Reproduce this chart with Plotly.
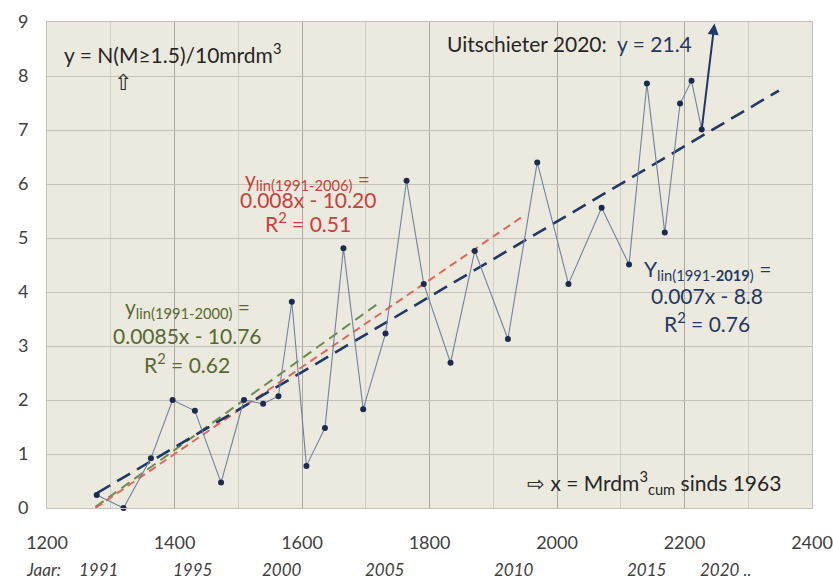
import plotly.graph_objects as go

# cumulative gas production (Mrd m3 since 1963) and quake rate per year 1991-2019
x_cum = [1278, 1320, 1363, 1397, 1432, 1473, 1509, 1539, 1563, 1584,
         1607, 1636, 1665, 1696, 1731, 1764, 1791, 1833, 1871, 1923,
         1969, 2018, 2070, 2113, 2141, 2169, 2193, 2211, 2227]
y_rate = [0.24, 0.0, 0.92, 2.0, 1.8, 0.47, 2.0, 1.93, 2.07, 3.82,
          0.78, 1.48, 4.81, 1.83, 3.23, 6.06, 4.15, 2.69, 4.76, 3.13,
          6.40, 4.15, 5.56, 4.51, 7.86, 5.10, 7.49, 7.91, 7.01]

# outlier 2020 (y = 21.4) drawn as arrow leaving the chart
outlier_x = 2247
outlier_y = 8.97

# linear fits (end points)
fit_2000_x = [1276, 1721]
fit_2000_y = [0.02, 3.80]
fit_2006_x = [1276, 1945]
fit_2006_y = [0.0, 5.39]
fit_2019_x = [1279, 2348]
fit_2019_y = [0.28, 7.73]

# year labels under the x axis, at their cumulative volume
year_x = [1280, 1429, 1569, 1729, 1933, 2141, 2264]
year_labels = ["1991", "1995", "2000", "2005", "2010", "2015", "2020 .."]

NAVY = "#1F3864"
RED = "#C9403A"
GREEN = "#56692F"
DARK = "#262626"
FONT = "Lato"

fig = go.Figure()

fig.add_trace(go.Scatter(x=fit_2000_x, y=fit_2000_y, mode="lines",
                         line=dict(color="#6E8A4E", width=2, dash="10px,6px"),
                         showlegend=False, hoverinfo="skip"))
fig.add_trace(go.Scatter(x=fit_2006_x, y=fit_2006_y, mode="lines",
                         line=dict(color="#E0675C", width=2, dash="8px,5px"),
                         showlegend=False, hoverinfo="skip"))
fig.add_trace(go.Scatter(x=fit_2019_x, y=fit_2019_y, mode="lines",
                         line=dict(color=NAVY, width=2.6, dash="15px,8px"),
                         showlegend=False, hoverinfo="skip"))

# measured series
fig.add_trace(go.Scatter(x=x_cum, y=y_rate, mode="lines+markers",
                         line=dict(color="#6F82A3", width=1.1),
                         marker=dict(color="#1B2A4E", size=6),
                         showlegend=False, cliponaxis=False))


def txt(text, x, y, color, size=21, xanchor="center", italic=False, xref="x", yref="y"):
    return dict(x=x, y=y, xref=xref, yref=yref, text=text, showarrow=False,
                xanchor=xanchor, yanchor="middle",
                font=dict(family=FONT, size=size, color=color,
                          style="italic" if italic else "normal"))


annotations = [
    # outlier arrow
    dict(x=outlier_x, y=outlier_y, ax=x_cum[-1], ay=y_rate[-1],
         xref="x", yref="y", axref="x", ayref="y", text="",
         showarrow=True, arrowhead=2, arrowsize=1.1, arrowwidth=2,
         arrowcolor=NAVY, standoff=0, startstandoff=0),
    txt("y = N(M≥1.5)/10mrdm<sup>3</sup>", 1224, 8.43, DARK, xanchor="left"),
    txt("⇧", 1319, 7.89, DARK, size=22),
    txt("Uitschieter 2020:  <span style='color:%s'>y = 21.4</span>" % NAVY,
        1824, 8.61, DARK, xanchor="left"),
    txt("y<sub>lin(1991-2006)</sub> =", 1609, 6.07, RED),
    txt("0.008x - 10.20", 1609, 5.72, RED),
    txt("R<sup>2</sup> = 0.51", 1609, 5.30, RED),
    txt("y<sub>lin(1991-2000)</sub> =", 1420, 3.70, GREEN),
    txt("0.0085x - 10.76", 1420, 3.19, GREEN),
    txt("R<sup>2</sup> = 0.62", 1420, 2.69, GREEN),
    txt("Y<sub>lin(1991-<b>2019</b>)</sub> =", 2236, 4.41, NAVY),
    txt("0.007x - 8.8", 2236, 3.94, NAVY),
    txt("R<sup>2</sup> = 0.76", 2236, 3.44, NAVY),
    txt("⇨ x = Mrdm<sup>3</sup><sub>cum</sub> sinds 1963", 2354, 0.48, DARK,
        xanchor="right"),
    txt("Jaar:", -0.004, -0.127, "#404040", size=17, italic=True,
        xref="paper", yref="paper"),
]
for xv, lab in zip(year_x, year_labels):
    annotations.append(txt(lab, xv, -0.127, "#404040", size=17, italic=True, yref="paper"))

fig.update_layout(
    width=833, height=580,
    margin=dict(l=47, r=21, t=22, b=72),
    paper_bgcolor="white",
    plot_bgcolor="#ECEADF",
    font=dict(family=FONT, color="#404040"),
    annotations=annotations,
    showlegend=False,
)
fig.update_xaxes(range=[1200, 2400], tick0=1200, dtick=200, automargin=False,
                 showgrid=True, gridcolor="#A9A9A2", gridwidth=1,
                 minor=dict(dtick=100, showgrid=True, gridcolor="#CFCEC6", gridwidth=1),
                 zeroline=False, showline=True, linecolor="#C4C3BB", mirror=True,
                 ticks="outside", ticklen=0, ticklabelstandoff=18,
                 tickfont=dict(size=18, color="#404040"))
fig.update_yaxes(range=[0, 9], dtick=1, automargin=False,
                 showgrid=True, gridcolor="#C2C1B9", gridwidth=1,
                 zeroline=False, showline=True, linecolor="#C4C3BB", mirror=True,
                 ticks="outside", ticklen=0, ticklabelstandoff=14,
                 tickfont=dict(size=18, color="#404040"))

# page body has a default 8px margin; remove it so the figure fills the window
fig.write_html("out.html", config=dict(displayModeBar=False),
               post_script="document.body.style.margin='0';document.body.style.overflow='hidden';")
